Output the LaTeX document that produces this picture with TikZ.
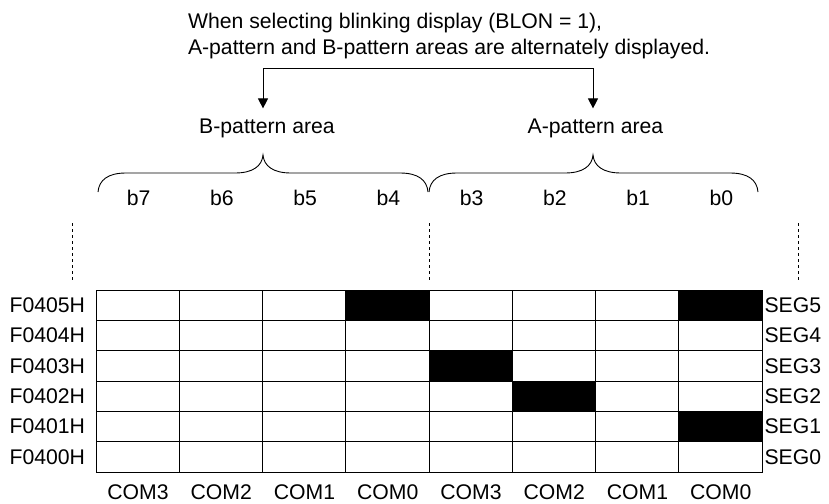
\documentclass[tikz,border=0pt]{standalone}
\usepackage{fontspec}
\setmainfont{Liberation Sans}
\usetikzlibrary{arrows.meta}
\newcommand\mybrace[3]{%
  \draw[bracestyle] (#1,192) .. controls (#1+1,180) and (#1+10,173) .. (#1+28,173)
    -- (#2-28,173) .. controls (#2-10,173) and (#2-1,166) .. (#2,155)
    .. controls (#2+1,166) and (#2+10,173) .. (#2+28,173)
    -- (#3-28,173) .. controls (#3-10,173) and (#3-1,180) .. (#3,192);}
\begin{document}
\begin{tikzpicture}[x=1pt,y=-1pt,
  font=\fontsize{21.2}{25}\selectfont,
  lbl/.style={inner sep=0pt, outer sep=0pt},
  cell/.style={draw=black, line width=0.9pt, inner sep=0pt, outer sep=0pt,
    minimum width=83.25pt, minimum height=30.33pt, anchor=north west},
  guide/.style={line width=0.8pt, dash pattern=on 3pt off 3pt},
  bracestyle/.style={line width=0.9pt},
  arr/.style={line width=0.9pt, line join=miter,
    {Triangle[length=10pt,width=10pt]}-{Triangle[length=10pt,width=10pt]}}]
\useasboundingbox (0,0) rectangle (829,503);

% header text
\node[lbl, anchor=base west] (t1) at (188,29) {When selecting blinking display (BLON = 1),};
\node[lbl, anchor=base west] (t2) at (188,55) {A-pattern and B-pattern areas are alternately displayed.};

% area labels
\node[lbl, anchor=base] (Bl) at (267,133) {B-pattern area};
\node[lbl, anchor=base] (Al) at (595.5,133) {A-pattern area};

% arrow connector
\coordinate (jl) at (263,68);
\coordinate (jr) at (593,68);
\draw[arr, shorten <=10pt, shorten >=10pt] (jl |- Bl.north) -- (jl) -- (jr) -- (jr |- Al.north);

% braces
\mybrace{98}{263}{428}
\mybrace{429}{593}{758}

% dashed guides
\draw[guide] (72,223) -- (72,280);
\draw[guide] (429,223) -- (429,280);
\draw[guide] (798,223) -- (798,280);

% grid cells
\foreach \r in {0,...,5} {
  \foreach \c in {0,...,7} {
    \node[cell] (c\r\c) at ({96+\c*83.25},{290+\r*30.33}) {};
  }
}
% lit cells
\foreach \r/\c in {0/3, 0/7, 2/4, 3/5, 4/7} {
  \fill[black] (c\r\c.north west) rectangle (c\r\c.south east);
}

% row labels
\foreach \r/\a/\s in {0/F0405H/SEG5, 1/F0404H/SEG4, 2/F0403H/SEG3, 3/F0402H/SEG2, 4/F0401H/SEG1, 5/F0400H/SEG0} {
  \node[lbl, anchor=east] (addr\r) at ([xshift=-11pt]c\r0.west) {\a};
  \node[lbl, anchor=west] (seg\r) at ([xshift=2.5pt]c\r7.east) {\s};
}

% bit labels and COM labels
\foreach \c/\b/\m in {0/b7/COM3, 1/b6/COM2, 2/b5/COM1, 3/b4/COM0, 4/b3/COM3, 5/b2/COM2, 6/b1/COM1, 7/b0/COM0} {
  \node[lbl, anchor=base] (bit\c) at ({96+\c*83.25+42.6},205) {\b};
  \node[lbl, anchor=base] (com\c) at ({96+\c*83.25+42},499) {\m};
}
\end{tikzpicture}
\end{document}
